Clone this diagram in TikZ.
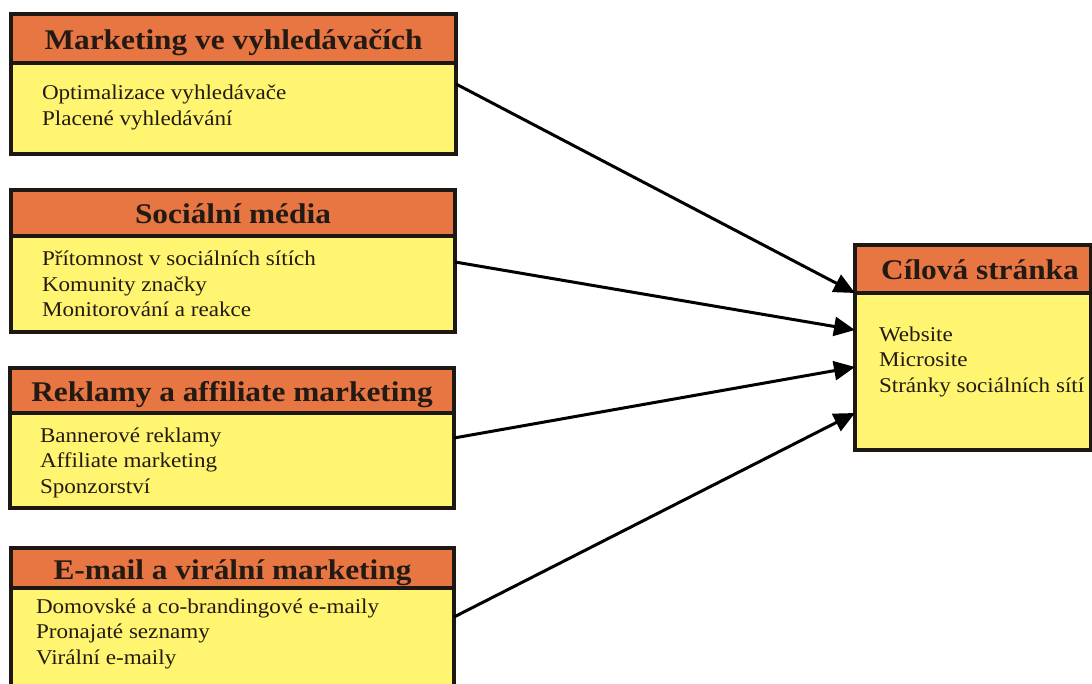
\documentclass[tikz,border=0pt]{standalone}
\usepackage{fontspec}
\setmainfont{Liberation Serif}[FakeStretch=1.1]
\usetikzlibrary{arrows.meta}
\definecolor{hdrorange}{RGB}{232,118,66}
\definecolor{bodyyellow}{RGB}{255,245,112}
\definecolor{inkdark}{RGB}{35,26,20}
\definecolor{edgedark}{RGB}{30,24,20}
\tikzset{
  hdr/.style={draw=edgedark, line width=3.2pt, fill=hdrorange, inner sep=0pt, outer sep=0pt,
    anchor=north west, text=inkdark, font=\fontsize{28.5}{30}\selectfont\bfseries,
    text height=27pt, text depth=5pt},
  bodybox/.style={draw=edgedark, line width=3.2pt, fill=bodyyellow, inner sep=0pt, outer sep=0pt,
    anchor=north west},
  txt/.style={inner sep=0pt, outer sep=0pt, anchor=north west, align=left, text=inkdark,
    font=\fontsize{21}{25.5}\selectfont},
  link/.style={draw=black, line width=3pt, -{Triangle[length=21pt,width=19pt]}, shorten >=0pt}
}
\newcommand{\fl}{\rule{0pt}{18pt}}
\begin{document}
\begin{tikzpicture}[x=1pt,y=-1pt]
\useasboundingbox (0,0) rectangle (1092,684);
\clip (0,0) rectangle (1092,684);
\fill[white] (0,0) rectangle (1092,684);

% Box 1
\node[bodybox, minimum width=445pt, minimum height=91pt] (b1) at (11,63) {};
\node[hdr, minimum width=445pt, minimum height=49pt] (h1) at (11,14) {Marketing ve vyhledávačích};
\node[txt] (t1) at (42,82) {\fl Optimalizace vyhledávače\\Placené vyhledávání};

% Box 2
\node[bodybox, minimum width=444pt, minimum height=96pt] (b2) at (11,236) {};
\node[hdr, minimum width=444pt, minimum height=46pt] (h2) at (11,190) {Sociální média};
\node[txt] (t2) at (42,248) {\fl Přítomnost v sociálních sítích\\Komunity značky\\Monitorování a reakce};

% Box 3
\node[bodybox, minimum width=444pt, minimum height=95pt] (b3) at (10,413) {};
\node[hdr, minimum width=444pt, minimum height=45pt] (h3) at (10,368) {Reklamy a affiliate marketing};
\node[txt] (t3) at (40,424) {\fl Bannerové reklamy\\Affiliate marketing\\Sponzorství};

% Box 4
\node[bodybox, minimum width=443pt, minimum height=120pt] (b4) at (11,588) {};
\node[hdr, minimum width=443pt, minimum height=40pt] (h4) at (11,548) {E-mail a virální marketing};
\node[txt] (t4) at (36,595) {\fl Domovské a co-brandingové e-maily\\Pronajaté seznamy\\Virální e-maily};

% Target box
\node[bodybox, minimum width=236pt, minimum height=157pt] (br) at (855,293) {};
\node[hdr, minimum width=236pt, minimum height=48pt] (hr) at (855,245) {\hspace*{14pt}Cílová stránka};
\node[txt] (tr) at (879,323) {\fl Website\\Microsite\\Stránky sociálních sítí};

% Connectors
\draw[link] ([yshift=-21pt]b1.north east) -- (br.north west);
\draw[link] ([yshift=-26pt]b2.north east) -- ([yshift=-37pt]br.north west);
\draw[link] ([yshift=-25pt]b3.north east) -- ([yshift=-74pt]br.north west);
\draw[link] ([yshift=-29pt]b4.north east) -- ([yshift=-120pt]br.north west);
\end{tikzpicture}
\end{document}
